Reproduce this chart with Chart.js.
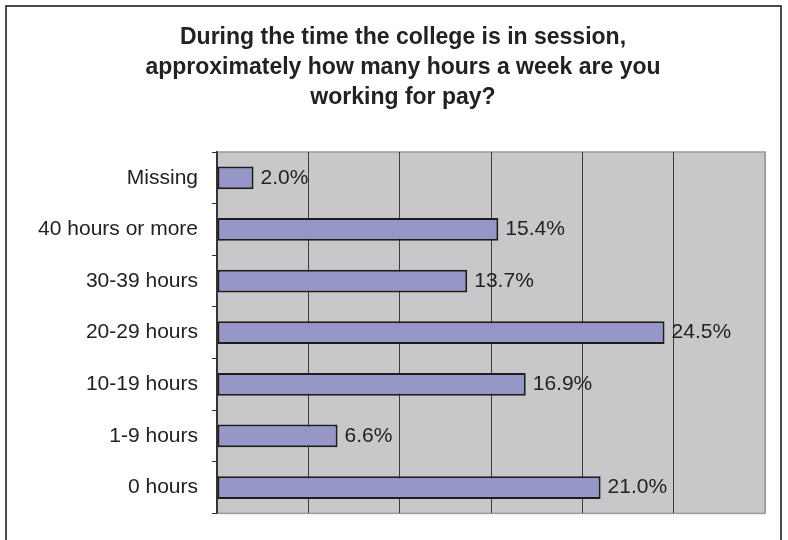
<!DOCTYPE html>
<html>
<head>
<meta charset="utf-8">
<script src="https://cdn.jsdelivr.net/npm/chart.js@4.4.1/dist/chart.umd.min.js"></script>
<style>
  html, body { margin: 0; padding: 0; background: #fff; }
  #wrap { width: 788px; height: 540px; }
</style>
</head>
<body>
<div id="wrap"><canvas id="hoursChart"></canvas></div>
<script>
const categories = ["Missing", "40 hours or more", "30-39 hours", "20-29 hours", "10-19 hours", "1-9 hours", "0 hours"];
const percents = [2.0, 15.4, 13.7, 24.5, 16.9, 6.6, 21.0];
const titleLines = [
  "During the time the college is in session,",
  "approximately how many hours a week are you",
  "working for pay?"
];

const canvas = document.getElementById("hoursChart");

// white page, outer frame and grey plot area
const frame = {
  id: "frame",
  beforeDraw(chart) {
    const ctx = chart.ctx;
    const a = chart.chartArea;
    ctx.save();
    ctx.fillStyle = "#fff";
    ctx.fillRect(0, 0, chart.width, chart.height);
    ctx.strokeStyle = "#111";
    ctx.lineWidth = 1.5;
    ctx.strokeRect(6, 6, 775, 600);
    ctx.fillStyle = "#c8c8ca";
    ctx.fillRect(a.left, a.top, a.right - a.left, a.bottom - a.top);
    ctx.strokeStyle = "#999";
    ctx.lineWidth = 1.5;
    ctx.strokeRect(a.left, a.top, a.right - a.left, a.bottom - a.top);
    ctx.restore();
  }
};

// title, centred a bit right of the canvas middle like the original
const titleText = {
  id: "titleText",
  afterDraw(chart) {
    const ctx = chart.ctx;
    ctx.save();
    ctx.font = 'bold 23px "Liberation Sans", Arial, sans-serif';
    ctx.fillStyle = "#222";
    ctx.textAlign = "center";
    ctx.textBaseline = "alphabetic";
    titleLines.forEach((line, i) => {
      ctx.fillText(line, 403, 44 + i * 30);
    });
    ctx.restore();
  }
};

// percent labels to the right of each bar
const valueLabels = {
  id: "valueLabels",
  afterDatasetsDraw(chart) {
    const ctx = chart.ctx;
    const meta = chart.getDatasetMeta(0);
    ctx.save();
    ctx.font = '21px "Liberation Sans", Arial, sans-serif';
    ctx.fillStyle = "#222";
    ctx.textAlign = "left";
    ctx.textBaseline = "middle";
    meta.data.forEach((bar, i) => {
      ctx.fillText(percents[i].toFixed(1) + "%", bar.x + 7, bar.y);
    });
    ctx.restore();
  }
};

const chart = new Chart(canvas, {
  type: "bar",
  data: {
    labels: categories,
    datasets: [{
      data: percents,
      backgroundColor: "#9696c8",
      borderColor: "#1c1c1c",
      borderWidth: 2,
      borderSkipped: false,
      barPercentage: 0.44,
      categoryPercentage: 1
    }]
  },
  options: {
    indexAxis: "y",
    responsive: true,
    maintainAspectRatio: false,
    animation: false,
    layout: { padding: { left: 0, right: 23, top: 152, bottom: 17 } },
    plugins: {
      legend: { display: false },
      tooltip: { enabled: false },
      title: { display: false }
    },
    scales: {
      x: {
        min: 0,
        max: 30,
        ticks: { display: false, stepSize: 5 },
        border: { display: false },
        grid: {
          color: ctx => ctx.tick && ctx.tick.value === 30 ? "#999" : "#3c3c3c",
          lineWidth: 1,
          drawTicks: false
        },
        afterFit(scale) { scale.height = 0; }
      },
      y: {
        ticks: {
          color: "#222",
          padding: 14,
          font: { family: '"Liberation Sans", Arial, sans-serif', size: 21 }
        },
        border: { display: true, color: "#333", width: 1.5 },
        grid: { drawOnChartArea: false, tickLength: 5, color: "#333" },
        afterFit(scale) { scale.width = 217; }
      }
    }
  },
  plugins: [frame, titleText, valueLabels]
});
</script>
</body>
</html>
